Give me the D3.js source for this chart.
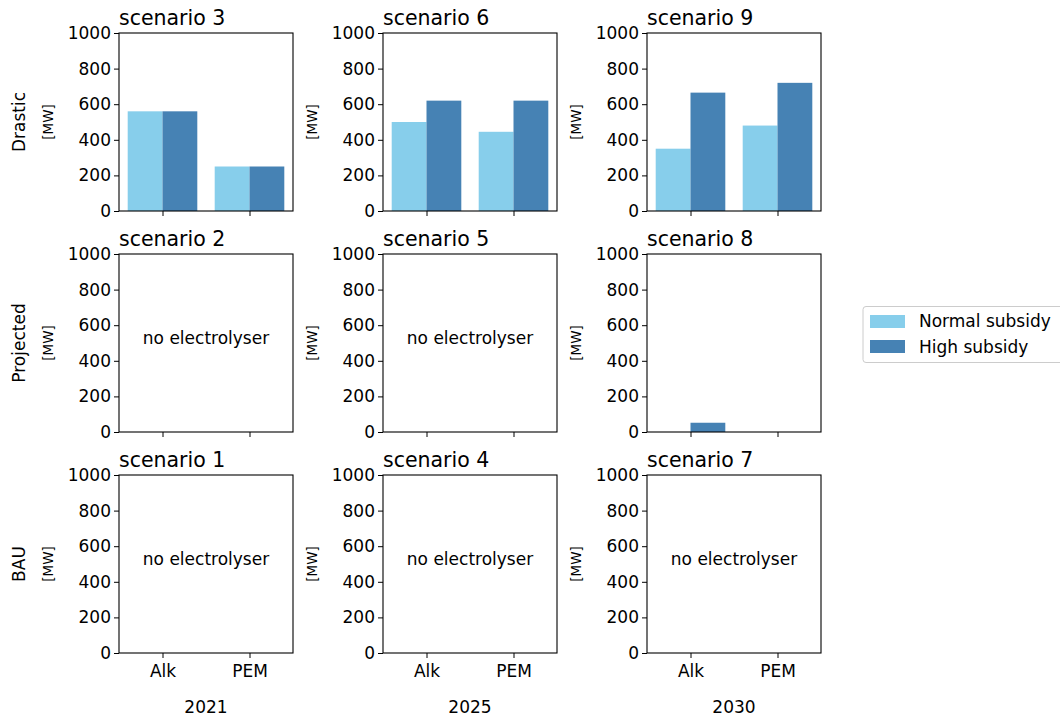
<!DOCTYPE html>
<html><head><meta charset="utf-8">
<script src="https://cdn.jsdelivr.net/npm/d3@7"></script>
<style>body{margin:0;background:#fff;font-family:"DejaVu Sans",sans-serif;}</style>
</head><body>
<svg id="c" width="1060" height="722"></svg>
<script>
const technologies = ["Alk", "PEM"];
const years = ["2021", "2025", "2030"];
const rowLabels = ["Drastic", "Projected", "BAU"];
const scenarioGrid = [[3, 6, 9], [2, 5, 8], [1, 4, 7]];
const seriesNames = ["Normal subsidy", "High subsidy"];
const seriesColors = ["#87CEEB", "#4682B4"];
// values per scenario: [Alk, PEM] for each series
const normalSubsidy = {1:[0,0],2:[0,0],3:[560,250],4:[0,0],5:[0,0],6:[500,445],7:[0,0],8:[0,0],9:[350,480]};
const highSubsidy   = {1:[0,0],2:[0,0],3:[560,250],4:[0,0],5:[0,0],6:[620,620],7:[0,0],8:[52,0],9:[665,720]};
const yTicks = [0, 200, 400, 600, 800, 1000];

const svg = d3.select("#c");
const font = "DejaVu Sans";
const fs = 17;
const pw = 174, ph = 178;
const lefts = [119, 383, 647], tops = [33, 254, 475];

scenarioGrid.forEach((row, ri) => {
  row.forEach((sc, ci) => {
    const g = svg.append("g").attr("transform", `translate(${lefts[ci]},${tops[ri]})`);
    const x = d3.scaleLinear().domain([-0.5, 1.5]).range([0, pw]);
    const y = d3.scaleLinear().domain([0, 1000]).range([ph, 0]);
    const series = [normalSubsidy[sc], highSubsidy[sc]];
    const total = series.flat().reduce((a, b) => a + b, 0);
    series.forEach((vals, si) => {
      g.selectAll(null).data(vals).enter().append("rect")
        .attr("x", (d, i) => x(i + (si === 0 ? -0.4 : 0)))
        .attr("width", x(0.4) - x(0))
        .attr("y", d => y(d))
        .attr("height", d => y(0) - y(d))
        .attr("fill", seriesColors[si]);
    });
    if (total === 0) {
      g.append("text").attr("x", pw / 2).attr("y", y(500) + 1).attr("text-anchor", "middle")
        .attr("font-family", font).attr("font-size", fs).text("no electrolyser");
    }
    // axes
    const ya = g.append("g").call(d3.axisLeft(y).tickValues(yTicks).tickFormat(d3.format("d")).tickSize(5).tickPadding(3));
    ya.attr("font-size", fs).attr("font-family", font);
    ya.selectAll("text").attr("fill", "#000");
    ya.selectAll("line").attr("stroke", "#000");
    ya.select(".domain").remove();
    const xa = g.append("g").attr("transform", `translate(0,${ph})`)
      .call(d3.axisBottom(x).tickValues([0, 1]).tickFormat(i => ri === 2 ? technologies[i] : "").tickSize(5).tickPadding(7));
    xa.attr("font-size", fs).attr("font-family", font);
    xa.selectAll("text").attr("fill", "#000");
    xa.selectAll("line").attr("stroke", "#000");
    xa.select(".domain").remove();
    g.append("rect").attr("width", pw).attr("height", ph).attr("fill", "none").attr("stroke", "#000").attr("stroke-width", 1.1);
    // title
    g.append("text").attr("x", 0).attr("y", -8).attr("font-family", font).attr("font-size", 20.5).text("scenario " + sc);
    // unit label
    g.append("text").attr("transform", `translate(${-66},${ph / 2}) rotate(-90)`).attr("text-anchor", "middle")
      .attr("font-family", font).attr("font-size", 13.5).text("[MW]");
    if (ci === 0) {
      g.append("text").attr("transform", `translate(${-94},${ph / 2}) rotate(-90)`).attr("text-anchor", "middle")
        .attr("font-family", font).attr("font-size", fs).text(rowLabels[ri]);
    }
    if (ri === 2) {
      g.append("text").attr("x", pw / 2).attr("y", ph + 60).attr("text-anchor", "middle")
        .attr("font-family", font).attr("font-size", fs).text(years[ci]);
    }
  });
});

// legend
const lg = svg.append("g").attr("transform", "translate(863,306.5)");
lg.append("rect").attr("width", 200).attr("height", 56).attr("rx", 3).attr("fill", "#fff").attr("stroke", "#ccc");
seriesNames.forEach((n, i) => {
  lg.append("rect").attr("x", 7).attr("y", 8.5 + i * 25).attr("width", 35).attr("height", 13).attr("fill", seriesColors[i]);
  lg.append("text").attr("x", 56).attr("y", 20.5 + i * 25.5).attr("font-family", font).attr("font-size", fs).text(n);
});
</script>
</body></html>
